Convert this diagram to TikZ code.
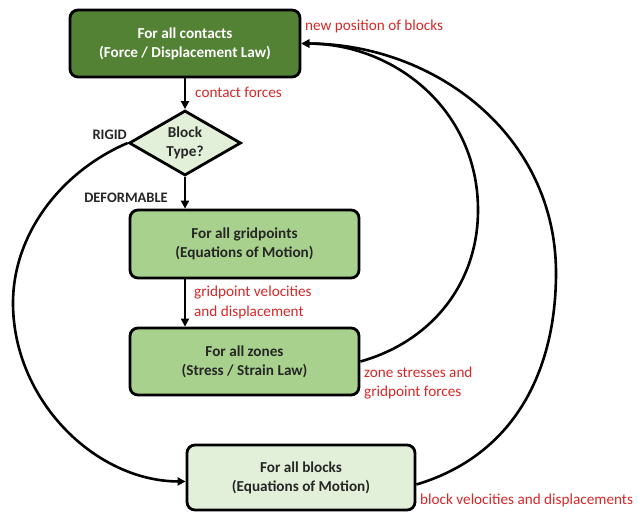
\documentclass[tikz,border=0pt]{standalone}
\usepackage{fontspec}
\setmainfont{Carlito}
\usetikzlibrary{shapes.geometric,arrows.meta}
\definecolor{darkg}{RGB}{84,130,53}
\definecolor{midg}{RGB}{169,209,142}
\definecolor{lightg}{RGB}{226,240,217}
\definecolor{lab}{RGB}{214,39,40}
\tikzset{
  procbox/.style={draw=black, line width=2.8pt, rounded corners=8pt, align=center,
    font=\fontsize{15.2}{19}\selectfont\bfseries, text=black!85, inner sep=0pt},
  decbox/.style={draw=black, line width=2.8pt, diamond, aspect=1.72, align=center,
    minimum width=112pt, minimum height=65pt, inner sep=0pt, fill=lightg,
    font=\fontsize{15.2}{19}\selectfont\bfseries, text=black!85},
  redlab/.style={text=lab, font=\fontsize{15.2}{19.5}\selectfont, align=left, inner sep=0pt},
  branchlab/.style={text=black!85, font=\fontsize{14.5}{16}\selectfont\bfseries, inner sep=0pt},
  conn/.style={line width=2.6pt, -{Triangle[length=8pt,width=8pt]}}
}
\begin{document}
\begin{tikzpicture}[x=1pt,y=-1pt]
\useasboundingbox (0,0) rectangle (638,512);
\node[procbox, fill=darkg, text=white, minimum width=230pt, minimum height=67pt] (top) at (185,43.5) {For all contacts\\(Force / Displacement Law)};
\node[decbox] (dia) at (185,143) {Block\\Type?};
\node[procbox, fill=midg, minimum width=229pt, minimum height=68pt] (grid) at (244.5,244) {For all gridpoints\\(Equations of Motion)};
\node[procbox, fill=midg, minimum width=229pt, minimum height=67pt] (zones) at (244.5,361.5) {For all zones\\(Stress / Strain Law)};
\node[procbox, fill=lightg, minimum width=228pt, minimum height=65pt] (blocks) at (301,477.5) {For all blocks\\(Equations of Motion)};

\node[redlab, anchor=west] (l1) at (195,92) {contact forces};
\node[redlab, anchor=west] (l2) at (305,26) {new position of blocks};
\node[branchlab, anchor=east] (rig) at (127,135) {RIGID};
\node[branchlab, anchor=east] (def) at (168,198) {DEFORMABLE};
\node[redlab, anchor=west] (l3) at (194,302.5) {gridpoint velocities\\and displacement};
\node[redlab, anchor=west] (l4) at (364,383) {zone stresses and\\gridpoint forces};
\node[redlab, anchor=west] (l5) at (420,500) {block velocities and displacements};

\draw[conn] (top.south) -- (dia.north);
\draw[conn] (dia.south) -- (dia.south |- grid.north);
\draw[conn] (grid.south -| dia.south) -- (zones.north -| dia.south);
\draw[conn] (dia.west) .. controls (60,172) and (13,235) .. (13,303)
   .. controls (13,400) and (95,481) .. ([yshift=-4pt]blocks.west);
\draw[conn] (zones.east) .. controls (430,342) and (478,285) .. (478,210)
   .. controls (478,110) and (395,44) .. (top.east);
\draw[conn] ([yshift=-7pt]blocks.east) .. controls (515,455) and (556,370) .. (556,273)
   .. controls (556,135) and (435,44) .. (top.east);
\end{tikzpicture}
\end{document}
